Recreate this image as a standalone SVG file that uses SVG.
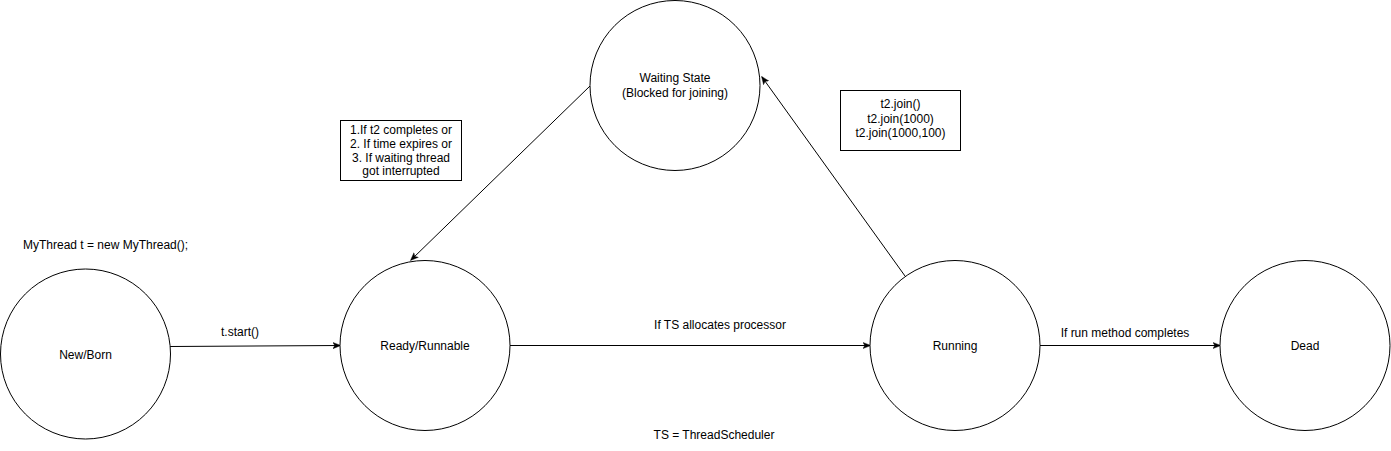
<svg xmlns="http://www.w3.org/2000/svg" width="1391" height="451" viewBox="0 0 1391 451">
<style>
.node{fill:#fff;stroke:#000;stroke-width:1}
.t{font-family:"Liberation Sans",Arial,sans-serif;font-size:12px;fill:#000}
.c{text-anchor:middle}
.edge{stroke:#000;stroke-width:1;fill:none;marker-end:url(#arr)}
</style>
<defs>
<marker id="arr" viewBox="0 0 10 10" refX="9" refY="5" markerWidth="8" markerHeight="8" markerUnits="userSpaceOnUse" orient="auto">
<path d="M0,1 L10,5 L0,9 L2.5,5 Z" fill="#000" stroke="#000" stroke-width="0.5"/>
</marker>
</defs>
<rect width="1391" height="451" fill="#fff"/>
<g id="connectors">
<line class="edge" x1="170" y1="346.5" x2="340" y2="345.5"/>
<line class="edge" x1="510" y1="345.5" x2="870" y2="345.5"/>
<line class="edge" x1="1040" y1="345.5" x2="1220" y2="345.5"/>
<line class="edge" x1="590" y1="86" x2="411" y2="260"/>
<line class="edge" x1="905" y1="276" x2="762" y2="77"/>
<text class="t c" x="240" y="336">t.start()</text>
<text class="t c" x="720" y="329">If TS allocates processor</text>
<text class="t c" x="1125" y="337">If run method completes</text>
</g>
<g id="newborn">
<circle class="node" cx="85.5" cy="354" r="85"/>
<text class="t c" x="85.5" y="358.5">New/Born</text>
</g>
<g id="ready">
<circle class="node" cx="425" cy="345.5" r="85"/>
<text class="t c" x="425" y="349.5">Ready/Runnable</text>
</g>
<g id="running">
<circle class="node" cx="955" cy="345.5" r="85"/>
<text class="t c" x="955" y="349.5">Running</text>
</g>
<g id="dead">
<circle class="node" cx="1305" cy="345.5" r="85"/>
<text class="t c" x="1305" y="349.5">Dead</text>
</g>
<g id="waiting">
<circle class="node" cx="675" cy="85.5" r="85"/>
<text class="t c" x="675" y="82">Waiting State</text>
<text class="t c" x="675" y="97">(Blocked for joining)</text>
</g>
<g id="note-return">
<rect class="node" x="340.5" y="120.5" width="121" height="60"/>
<text class="t c" x="401" y="134">1.If t2 completes or</text>
<text class="t c" x="401" y="148">2. If time expires or</text>
<text class="t c" x="401" y="161.5">3. If waiting thread</text>
<text class="t c" x="401" y="175">got interrupted</text>
</g>
<g id="note-join">
<rect class="node" x="840.5" y="90.5" width="120" height="60"/>
<text class="t c" x="900.5" y="108">t2.join()</text>
<text class="t c" x="900.5" y="122.5">t2.join(1000)</text>
<text class="t c" x="900.5" y="137">t2.join(1000,100)</text>
</g>
<g id="label-new">
<text class="t" x="23" y="249">MyThread t = new MyThread();</text>
</g>
<g id="label-ts">
<text class="t c" x="714" y="439">TS = ThreadScheduler</text>
</g>
</svg>
